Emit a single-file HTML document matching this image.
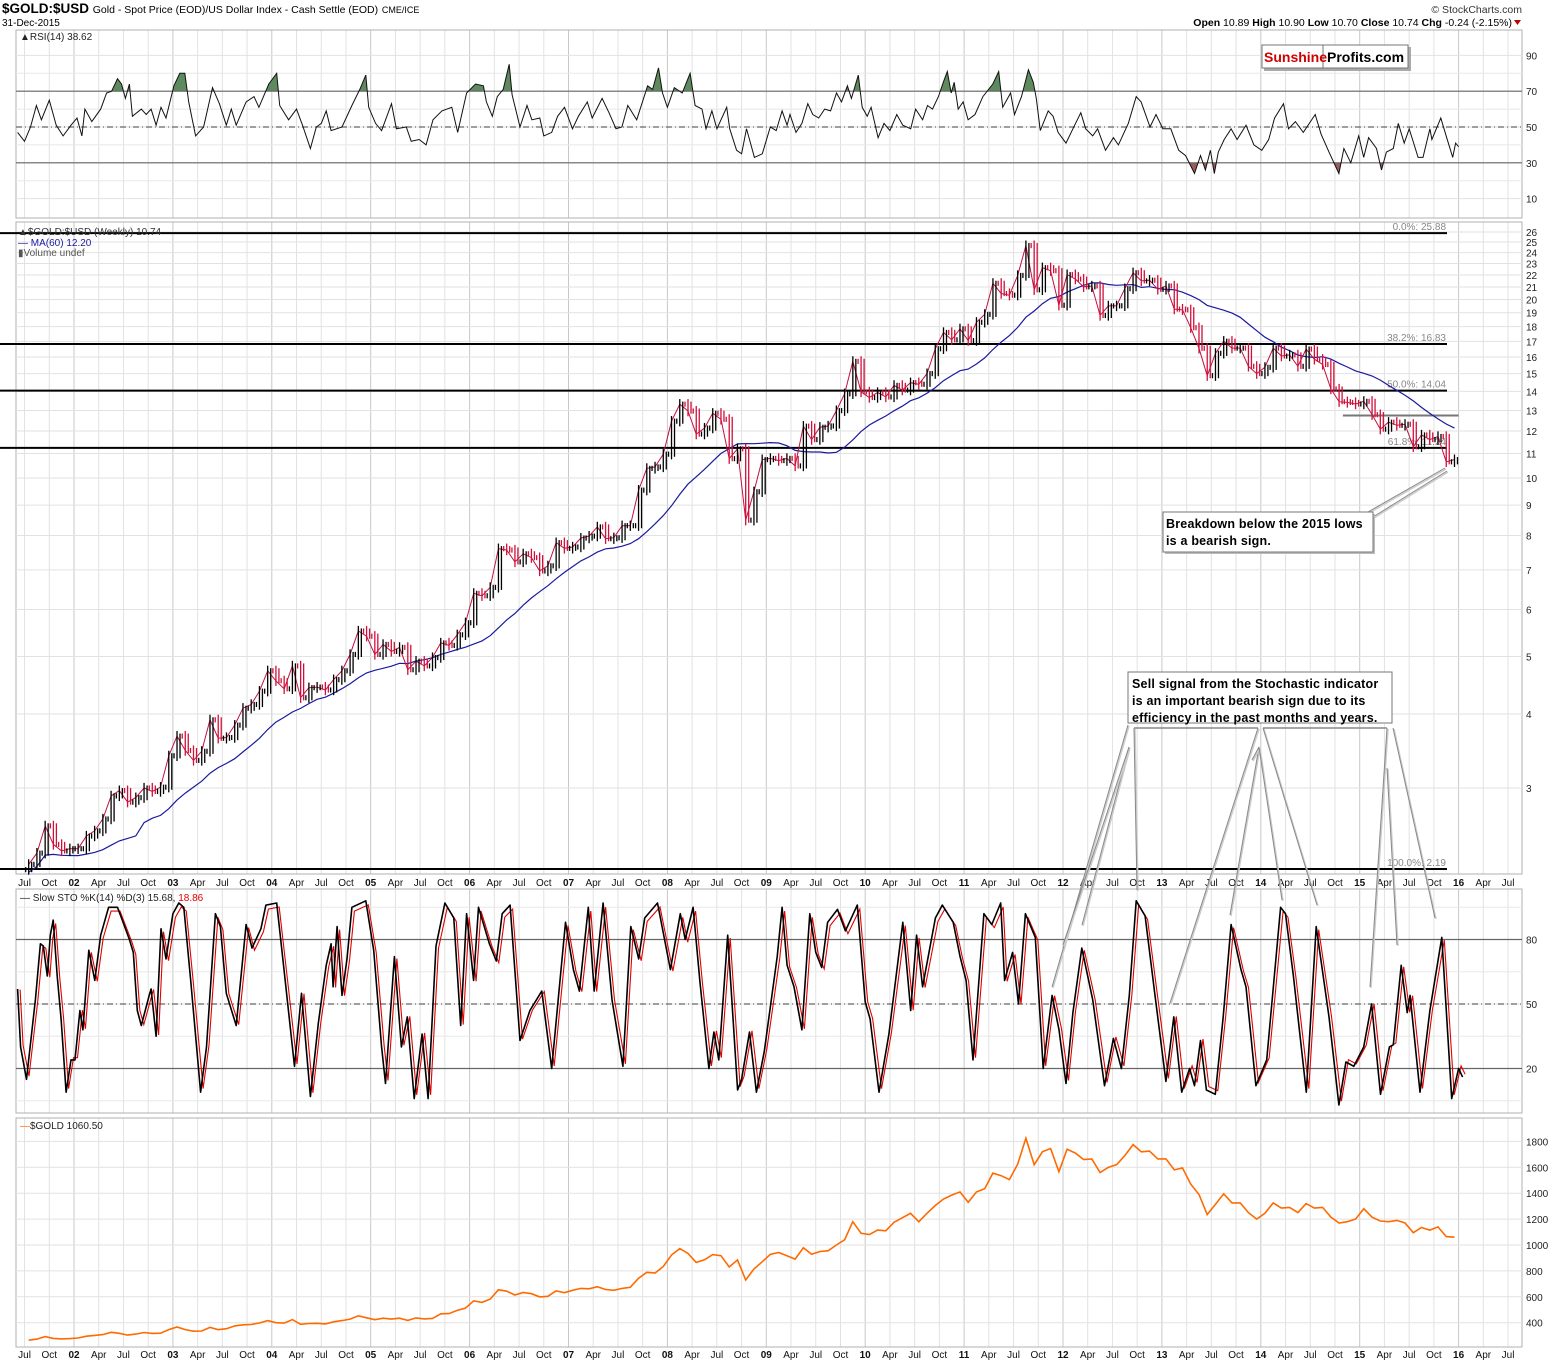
<!DOCTYPE html>
<html><head><meta charset="utf-8">
<style>
html,body{margin:0;padding:0;background:#fff;}
body{width:1565px;height:1362px;overflow:hidden;font-family:"Liberation Sans",Arial,sans-serif;}
svg{display:block;}
text{font-family:"Liberation Sans",Arial,sans-serif;}
</style></head>
<body>
<svg id="chart" width="1565" height="1362" viewBox="0 0 1565 1362" xmlns="http://www.w3.org/2000/svg">
  <text x="2" y="13" font-size="13.5" font-weight="bold">$GOLD:$USD <tspan font-size="10.5" font-weight="normal">Gold - Spot Price (EOD)/US Dollar Index - Cash Settle (EOD)</tspan> <tspan font-size="9" font-weight="normal">CME/ICE</tspan></text>
  <text x="2" y="26" font-size="10">31-Dec-2015</text>
  <text x="1522" y="13" font-size="10.5" fill="#333" text-anchor="end">© StockCharts.com</text>
  <text x="1512" y="26" font-size="10.5" text-anchor="end"><tspan font-weight="bold">Open</tspan> 10.89  <tspan font-weight="bold">High</tspan> 10.90  <tspan font-weight="bold">Low</tspan> 10.70  <tspan font-weight="bold">Close</tspan> 10.74  <tspan font-weight="bold">Chg</tspan> -0.24 (-2.15%)</text>
  <polygon points="1514,20 1521,20 1517.5,25" fill="#c00000"/>
  <g id="grid"></g>
  <g id="rsi"></g>
  <g id="main"></g>
  <g id="sto"></g>
  <g id="gold"></g>
  <g id="axes"></g>
  <g id="notes"></g>
</svg>
<script>
// ---------- DATA ----------
const priceStart = 2001.5; // July 2001, monthly closes
const ratioCloses = [2.23,2.33,2.59,2.41,2.35,2.37,
2.37,2.49,2.54,2.66,2.91,2.97,2.84,2.89,3.0,2.96,3.01,3.40,
3.67,3.47,3.34,3.46,3.91,3.64,3.65,3.83,4.09,4.15,4.37,4.73,
4.55,4.41,4.82,4.26,4.43,4.44,4.39,4.57,4.73,5.04,5.52,5.41,
5.04,5.24,5.10,5.18,4.75,4.91,4.82,4.98,5.27,5.22,5.44,5.70,
6.39,6.33,6.54,7.60,7.56,7.22,7.45,7.34,6.97,7.11,7.78,7.61,
7.65,7.92,7.98,8.27,7.90,7.93,8.31,8.31,9.54,10.38,10.44,10.97,
12.47,13.32,12.97,11.86,12.14,12.86,12.56,10.78,11.20,8.49,9.48,10.74,
10.79,10.70,10.79,10.48,12.23,11.61,12.18,12.24,12.99,13.87,15.73,13.97,
13.67,13.94,13.70,14.33,14.07,14.48,14.39,15.0,16.52,17.60,17.10,17.85,
17.05,18.31,18.88,21.30,20.47,20.34,21.96,24.66,20.77,22.63,22.37,19.56,
22.03,21.65,21.01,21.08,18.80,19.51,19.52,20.86,22.19,21.50,21.56,20.81,
21.08,19.27,19.22,17.93,16.55,14.88,16.23,17.01,16.56,16.56,15.43,15.0,
15.37,16.56,16.06,16.13,15.43,16.5,15.86,15.54,14.13,13.45,13.41,13.33,
13.47,12.79,12.09,12.42,12.27,12.32,11.29,11.82,11.61,11.75,10.65,10.74];
const goldCloses = [265,273,293,279,275,277,
282,296,302,308,326,318,304,312,324,317,319,347,
367,347,334,336,364,346,354,375,384,386,398,416,
400,397,424,388,394,395,391,407,416,428,453,438,
423,435,428,435,418,437,429,433,469,470,495,513,
569,557,582,654,643,614,633,624,599,604,646,632,
650,665,662,678,656,650,665,673,744,789,783,834,
923,972,934,866,886,926,917,830,885,730,815,870,
928,942,917,891,978,929,950,955,1000,1040,1180,1090,
1080,1115,1110,1175,1210,1245,1180,1245,1305,1355,1385,1410,
1330,1410,1435,1555,1535,1505,1625,1825,1620,1720,1745,1565,
1740,1710,1660,1665,1560,1600,1620,1690,1775,1720,1725,1665,
1665,1580,1595,1470,1390,1235,1315,1395,1325,1325,1250,1200,
1245,1325,1285,1290,1250,1320,1285,1290,1215,1170,1180,1200,
1280,1215,1185,1180,1190,1170,1095,1135,1115,1140,1065,1060];
const maPeriodMonths = 14;
const fibLevels = [25.88, 16.83, 14.04, 11.24, 2.19];
const fibLabels = ["0.0%: 25.88","38.2%: 16.83","50.0%: 14.04","61.8%: 11.24","100.0%: 2.19"];
const resistanceLevel = 12.75;
const mainTicks = [3,4,5,6,7,8,9,10,11,12,13,14,15,16,17,18,19,20,21,22,23,24,25,26];
const rsiTicks = [10,30,50,70,90];
const stoTicks = [20,50,80];
const goldTicks = [400,600,800,1000,1200,1400,1600,1800];

const rsiDates = [2001.43,2001.50,2001.56,2001.62,2001.67,2001.75,2001.82,2001.89,2001.97,2002.03,2002.08,2002.11,2002.18,2002.27,2002.33,2002.38,2002.44,2002.48,2002.52,2002.56,2002.59,2002.68,2002.73,2002.78,2002.83,2002.88,2002.93,2003.01,2003.07,2003.12,2003.16,2003.23,2003.31,2003.40,2003.47,2003.54,2003.59,2003.64,2003.74,2003.82,2003.87,2003.97,2004.05,2004.08,2004.17,2004.25,2004.31,2004.39,2004.45,2004.50,2004.55,2004.60,2004.71,2004.81,2004.89,2004.95,2004.98,2005.05,2005.11,2005.21,2005.26,2005.36,2005.41,2005.49,2005.56,2005.63,2005.72,2005.82,2005.88,2005.97,2006.06,2006.14,2006.17,2006.23,2006.28,2006.34,2006.40,2006.43,2006.51,2006.58,2006.63,2006.71,2006.75,2006.83,2006.89,2006.96,2007.04,2007.10,2007.19,2007.24,2007.34,2007.41,2007.48,2007.54,2007.60,2007.69,2007.80,2007.85,2007.91,2007.95,2008.00,2008.07,2008.15,2008.23,2008.28,2008.35,2008.39,2008.45,2008.50,2008.60,2008.63,2008.70,2008.75,2008.80,2008.84,2008.88,2008.96,2009.04,2009.10,2009.16,
2009.21,2009.24,2009.30,2009.36,2009.42,2009.47,2009.53,2009.59,2009.65,2009.71,2009.76,2009.82,2009.86,2009.93,2009.97,2010.02,2010.06,2010.13,2010.19,2010.25,2010.32,2010.38,2010.46,2010.51,2010.58,2010.63,2010.68,2010.74,2010.79,2010.83,2010.87,2010.90,2010.94,2010.99,2011.04,2011.11,2011.19,2011.29,2011.35,2011.39,2011.47,2011.51,2011.58,2011.65,2011.70,2011.73,2011.77,2011.85,2011.90,2011.95,2012.03,2012.10,2012.18,2012.23,2012.30,2012.35,2012.43,2012.51,2012.56,2012.66,2012.74,2012.79,2012.88,2012.94,2013.01,2013.09,2013.17,2013.24,2013.33,2013.39,2013.44,2013.49,2013.53,2013.57,2013.63,2013.70,2013.76,2013.85,2013.93,2014.01,2014.08,2014.14,2014.23,2014.28,2014.35,2014.43,2014.55,2014.61,2014.69,2014.79,2014.84,2014.91,2014.99,2015.04,2015.09,2015.17,2015.22,2015.27,2015.34,2015.39,2015.45,2015.50,2015.59,2015.64,2015.71,2015.73,2015.82,2015.88,2015.94,2015.97,2016.00];
const rsiValues = [47,42,50,62,54,65,51,45,51,55,45,60,53,60,69,70,77,74,66,74,56,60,57,60,51,61,55,73,80,80,64,45,50,72,63,51,60,51,64,67,61,74,80,62,54,60,51,38,50,52,59,48,50,62,71,79,61,52,48,63,49,50,42,43,40,54,59,61,47,69,74,73,64,56,67,71,85,68,50,62,54,55,45,47,56,61,49,56,64,55,66,58,49,50,62,54,73,71,83,69,61,72,69,80,62,60,49,59,49,61,49,37,35,49,41,33,35,50,48,59,
51,57,47,52,63,57,55,60,59,69,64,73,66,79,61,56,61,44,52,48,57,51,49,60,54,62,60,67,75,81,69,75,60,64,54,57,67,74,81,61,69,57,67,82,75,66,48,59,56,47,41,49,58,49,45,49,37,44,40,52,67,64,50,57,49,49,37,34,24,34,26,37,24,36,43,49,43,51,40,37,43,55,63,49,53,47,57,46,36,24,38,30,45,33,44,38,26,36,38,52,41,49,33,33,49,43,55,44,33,41,39];

const stoDates = [2001.43,2001.46,2001.52,2001.61,2001.66,2001.69,2001.73,2001.76,2001.79,2001.83,2001.87,2001.92,2001.97,2002.01,2002.06,2002.09,2002.15,2002.21,2002.27,2002.35,2002.44,2002.48,2002.56,2002.60,2002.64,2002.68,2002.76,2002.78,2002.83,2002.88,2002.93,2003.00,2003.06,2003.11,2003.18,2003.24,2003.28,2003.34,2003.43,2003.48,2003.54,2003.64,2003.74,2003.80,2003.89,2003.94,2004.05,2004.13,2004.23,2004.30,2004.39,2004.47,2004.55,2004.60,2004.62,2004.66,2004.71,2004.76,2004.81,2004.95,2005.03,2005.11,2005.15,2005.24,2005.31,2005.37,2005.44,2005.52,2005.58,2005.66,2005.75,2005.84,2005.91,2005.97,2006.04,2006.09,2006.20,2006.27,2006.33,2006.41,2006.51,2006.61,2006.73,2006.83,2006.97,2007.05,2007.11,2007.20,2007.26,2007.35,2007.44,2007.55,2007.63,2007.71,2007.77,2007.90,2008.03,2008.13,2008.18,2008.26,2008.33,2008.42,2008.47,2008.52,2008.61,2008.71,2008.75,2008.83,2008.90,2008.98,2009.11,
2009.16,2009.21,2009.28,2009.36,2009.44,2009.50,2009.56,2009.62,2009.72,2009.80,2009.92,2010.00,2010.05,2010.14,2010.24,2010.38,2010.46,2010.52,2010.58,2010.71,2010.78,2010.89,2010.96,2011.02,2011.09,2011.20,2011.28,2011.37,2011.41,2011.49,2011.55,2011.62,2011.72,2011.80,2011.89,2011.96,2012.03,2012.10,2012.19,2012.30,2012.42,2012.51,2012.59,2012.67,2012.74,2012.83,2012.93,2013.04,2013.12,2013.20,2013.28,2013.33,2013.39,2013.45,2013.54,2013.62,2013.70,2013.80,2013.85,2013.95,2014.06,2014.20,2014.25,2014.33,2014.46,2014.56,2014.69,2014.79,2014.86,2014.94,2015.04,2015.12,2015.21,2015.30,2015.34,2015.42,2015.48,2015.51,2015.61,2015.71,2015.83,2015.93,2016.00,2016.04];
const stoKValues = [57,30,15,52,78,77,63,82,89,63,43,9,24,24,47,38,75,61,82,95,95,90,80,74,47,40,54,57,35,85,71,92,97,95,61,30,9,30,92,86,55,40,87,76,85,96,97,63,21,55,7,41,68,78,58,86,54,71,95,98,75,30,13,72,30,44,6,36,6,77,97,90,40,92,61,95,78,70,92,96,33,47,56,20,88,66,56,95,56,97,52,21,86,71,90,97,66,92,80,95,60,20,37,24,82,10,15,37,9,28,72,
95,68,58,38,92,74,67,88,94,84,96,51,43,9,36,88,47,82,58,90,96,88,72,61,24,92,87,97,61,74,50,92,81,20,54,38,13,46,76,52,12,34,20,54,98,91,54,14,44,9,20,12,33,10,8,44,87,66,58,12,24,95,92,63,9,86,44,3,23,21,30,50,8,30,31,68,46,54,9,47,81,6,20,16];

// ---------- GEOMETRY ----------
const X0 = 16, X1 = 1522;
const xOf = y => 74 + (y - 2002) * 98.9;
const monthX = i => xOf(priceStart + (i + 0.5) / 12);
const RSI = {top:30, bot:218}, MAIN = {top:222, bot:874}, STO = {top:889, bot:1113}, GOLD = {top:1118, bot:1347};
const yRsi = v => 127 - (v - 50) * 1.79;
const yMain = v => 478 - Math.log(v / 10) * 257.5;
const ySto = v => 1004 - (v - 50) * 2.15;
const yGold = v => 1245 - (v - 1000) * 0.1295;

const NS = "http://www.w3.org/2000/svg";
function mk(tag, attrs, parent) {
  const e = document.createElementNS(NS, tag);
  for (const k in attrs) e.setAttribute(k, attrs[k]);
  parent.appendChild(e);
  return e;
}
const gGrid = document.getElementById('grid');
const gAxes = document.getElementById('axes');

const panels = [RSI, MAIN, STO, GOLD];
const panelNames = ['rsi-frame','price-frame','stochastic-frame','gold-frame'];
panels.forEach((p, idx) => {
  for (let y = 2001.5; y <= 2016.75; y += 0.25) {
    const x = xOf(y);
    if (x < X0 || x > X1) continue;
    const isYear = Math.abs(y - Math.round(y)) < 0.01;
    const l = mk('line', {x1:x, x2:x, y1:p.top, y2:p.bot, stroke: isYear ? '#c8c8c8' : '#e2e2e2', 'stroke-width':1}, gGrid);
    
    
  }
  const r = mk('rect', {x:X0, y:p.top, width:X1 - X0, height:p.bot - p.top, fill:'none', stroke:'#b0b0b0', 'stroke-width':1}, gGrid);
  
  
});
function hgrid(ticks, yf, p, name) {
  ticks.forEach(t => {
    const y = yf(t);
    const l = mk('line', {x1:X0, x2:X1, y1:y, y2:y, stroke:'#e2e2e2', 'stroke-width':1}, gGrid);
    
    
    const tx = mk('text', {x:X1 + 4, y:y + 4, 'font-size':10, fill:'#222'}, gAxes);
    tx.textContent = t;
    
    
  });
}
hgrid(rsiTicks, yRsi, RSI, 'rsi');
[20,40,60,80].forEach(t => { const l = mk('line',{x1:X0,x2:X1,y1:yRsi(t),y2:yRsi(t),stroke:'#e8e8e8'},gGrid);   });
hgrid(mainTicks, yMain, MAIN, 'price');
hgrid(stoTicks, ySto, STO, 'stochastic');
[35,65,95,5].forEach(t => { const l = mk('line',{x1:X0,x2:X1,y1:ySto(t),y2:ySto(t),stroke:'#e8e8e8'},gGrid);   });
hgrid(goldTicks, yGold, GOLD, 'gold');

function xLabels(yPos, name) {
  const mNames = ['', 'Apr', 'Jul', 'Oct'];
  for (let y = 2001.5; y <= 2016.5; y += 0.25) {
    const q = Math.round((y - Math.floor(y)) * 4);
    const yr = Math.floor(y + 1e-6);
    const label = q === 0 ? String(yr).slice(2) : mNames[q];
    const t = mk('text', {x:xOf(y), y:yPos, 'font-size':10, 'text-anchor':'middle', 'font-weight': q === 0 ? 'bold' : 'normal', fill:'#111'}, gAxes);
    t.textContent = label;
    
    
  }
}
xLabels(886, 'x-axis-label-upper');
xLabels(1358, 'x-axis-label-lower');

// ---------- RSI ----------
const gR = document.getElementById('rsi');
const rsiPts = rsiDates.map((d, i) => [xOf(d), yRsi(rsiValues[i])]);
const defs = mk('defs', {}, gR);
const c1 = mk('clipPath', {id:'above70'}, defs); mk('rect', {x:0, y:0, width:1565, height:yRsi(70)}, c1);
const c2 = mk('clipPath', {id:'below30'}, defs); mk('rect', {x:0, y:yRsi(30), width:1565, height:200}, c2);
const ptsStr = rsiPts.map(p => p[0].toFixed(1) + ',' + p[1].toFixed(1)).join(' ');
const first = rsiPts[0], last = rsiPts[rsiPts.length - 1];
const fa = mk('polygon', {points: ptsStr + ` ${last[0]},${yRsi(70)} ${first[0]},${yRsi(70)}`, fill:'#5f8a5f', 'clip-path':'url(#above70)'}, gR);


const fb = mk('polygon', {points: ptsStr + ` ${last[0]},${yRsi(30)} ${first[0]},${yRsi(30)}`, fill:'#9a5b5b', 'clip-path':'url(#below30)'}, gR);


[[70,'none'],[30,'none'],[50,'6,3,1,3']].forEach(([v, dash]) => {
  const l = mk('line', {x1:X0, x2:X1, y1:yRsi(v), y2:yRsi(v), stroke:'#666', 'stroke-width':1.2, 'stroke-dasharray':dash}, gR);
  
  
});
const rl = mk('polyline', {points: ptsStr, fill:'none', stroke:'#111', 'stroke-width':1}, gR);


const rt = mk('text', {x:20, y:40, 'font-size':10, fill:'#222'}, gR);
rt.textContent = '▲RSI(14) 38.62';



// ---------- MAIN PRICE ----------
const gM = document.getElementById('main');
fibLevels.forEach((v, i) => {
  const l = mk('line', {x1:0, x2:1447, y1:yMain(v), y2:yMain(v), stroke:'#000', 'stroke-width':2}, gM);
  
  
  const t = mk('text', {x:1446, y:yMain(v) - 3, 'font-size':10, fill:'#888', 'text-anchor':'end'}, gM);
  t.textContent = fibLabels[i];
  
  
});
const rsl = mk('line', {x1:xOf(2014.83), x2:xOf(2016.0), y1:yMain(resistanceLevel), y2:yMain(resistanceLevel), stroke:'#777', 'stroke-width':2}, gM);



const maPts = ratioCloses.map((v, i) => {
  const s = ratioCloses.slice(Math.max(0, i - maPeriodMonths + 1), i + 1);
  const avg = s.reduce((a, b) => a + b, 0) / s.length;
  return [monthX(i), yMain(avg * (i < maPeriodMonths ? 0.97 : 1))];
});
const mal = mk('polyline', {points: maPts.map(p => p[0].toFixed(1) + ',' + p[1].toFixed(1)).join(' '), fill:'none', stroke:'#1a1aa0', 'stroke-width':1.2}, gM);



// thin closes line underneath
const pl = mk('polyline', {points: ratioCloses.map((c, i) => monthX(i).toFixed(1) + ',' + yMain(c).toFixed(1)).join(' '), fill:'none', stroke:'#c01040', 'stroke-width':1}, gM);


ratioCloses.forEach((c, i) => {
  const o = i === 0 ? c * 0.98 : ratioCloses[i - 1];
  const hi = Math.max(o, c) * 1.02, lo = Math.min(o, c) * 0.98;
  const col = c >= o ? '#000' : '#d0103a';
  const x = monthX(i);
  const b = mk('line', {x1:x, x2:x, y1:yMain(hi), y2:yMain(lo), stroke:col, 'stroke-width':1.3}, gM);
  
  
  const b2 = mk('line', {x1:x + 3, x2:x + 3, y1:yMain(Math.max(o, c) * 1.01), y2:yMain(Math.min(o, c) * 0.99), stroke:col, 'stroke-width':1.3}, gM);
  
  
  const b3 = mk('line', {x1:x - 3, x2:x - 3, y1:yMain(o * 1.01), y2:yMain(o * 0.99), stroke:col, 'stroke-width':1.3}, gM);
  
  
});

const lg1 = mk('text', {x:18, y:235, 'font-size':10, fill:'#333'}, gM);
lg1.textContent = '▲$GOLD:$USD (Weekly) 10.74';


const lg2 = mk('text', {x:18, y:246, 'font-size':10, fill:'#1a1aa0'}, gM);
lg2.textContent = '— MA(60) 12.20';


const lg3 = mk('text', {x:18, y:256, 'font-size':10, fill:'#555'}, gM);
lg3.textContent = '▮Volume undef';



// ---------- STOCHASTIC ----------
const gS = document.getElementById('sto');
[[80,'none'],[20,'none'],[50,'6,3,1,3']].forEach(([v, dash]) => {
  const l = mk('line', {x1:X0, x2:X1, y1:ySto(v), y2:ySto(v), stroke:'#666', 'stroke-width':1.2, 'stroke-dasharray':dash}, gS);
  
  
});
const dl = mk('polyline', {points: stoDates.map((d, i) => (xOf(d) + 2.5).toFixed(1) + ',' + ySto(stoKValues[i] * 0.96 + 2).toFixed(1)).join(' '), fill:'none', stroke:'#e00000', 'stroke-width':1.1}, gS);


const kl = mk('polyline', {points: stoDates.map((d, i) => xOf(d).toFixed(1) + ',' + ySto(stoKValues[i]).toFixed(1)).join(' '), fill:'none', stroke:'#000', 'stroke-width':1.6, 'stroke-linejoin':'round'}, gS);


const st = mk('text', {x:20, y:901, 'font-size':10, fill:'#222'}, gS);
st.innerHTML = '— Slow STO %K(14) %D(3) 15.68, <tspan fill="#e00000">18.86</tspan>';



// ---------- GOLD ----------
const gG = document.getElementById('gold');
const gl = mk('polyline', {points: goldCloses.map((v, i) => monthX(i).toFixed(1) + ',' + yGold(v).toFixed(1)).join(' '), fill:'none', stroke:'#ff6a00', 'stroke-width':1.6}, gG);


const gt = mk('text', {x:20, y:1129, 'font-size':10, fill:'#222'}, gG);
gt.innerHTML = '<tspan fill="#ff6a00">—</tspan>$GOLD 1060.50';



// ---------- ANNOTATIONS ----------
const gN = document.getElementById('notes');
const calloutLines = [
  [1368,512,1445,468],[1373,517,1447,471],
  [1128,725,1052,987],[1129,747,1082,925],[1129,747,1063,945],
  [1134,728,1137,890],
  [1258,728,1170,1003],[1259,747,1230,915],[1259,747,1252,760],
  [1263,728,1317,905],[1259,747,1282,900],
  [1387,728,1370,987],[1393,728,1435,918],[1387,768,1397,945]
];
calloutLines.forEach(c => {
  const a = mk('line', {x1:c[0]+1, y1:c[1]+1, x2:c[2]+1, y2:c[3]+1, stroke:'#ccc', 'stroke-width':1.5}, gN);
  
  
  const b = mk('line', {x1:c[0], y1:c[1], x2:c[2], y2:c[3], stroke:'#888', 'stroke-width':1}, gN);
  
  
});
const br1 = mk('polyline', {points:'1134,728 1258,728', fill:'none', stroke:'#888', 'stroke-width':1.5}, gN);


const br2 = mk('polyline', {points:'1263,728 1387,728', fill:'none', stroke:'#888', 'stroke-width':1.5}, gN);


</script>
<svg style="position:absolute;left:0;top:0" width="1565" height="1362">
  <rect x="1264" y="47" width="147" height="24" fill="#aaa"/>
  <rect x="1262" y="45" width="146" height="23" fill="#fff" stroke="#777"/>
  <line x1="1323" y1="45" x2="1323" y2="68" stroke="#777"/>
  <text x="1264" y="62" font-size="14" font-weight="bold" fill="#d00000" font-family="Liberation Sans, sans-serif">Sunshine</text>
  <text x="1327" y="62" font-size="14" font-weight="bold" fill="#000" font-family="Liberation Sans, sans-serif">Profits.com</text>
  <rect x="1165" y="514" width="210" height="40" fill="#bbb"/>
  <rect x="1163" y="512" width="210" height="40" fill="#fff" stroke="#777"/>
  <text x="1166" y="528" font-size="12.5" font-weight="bold" font-family="Liberation Sans, sans-serif" letter-spacing="0.2">Breakdown below the 2015 lows</text>
  <text x="1166" y="545" font-size="12.5" font-weight="bold" font-family="Liberation Sans, sans-serif" letter-spacing="0.2">is a bearish sign.</text>
  <rect x="1128" y="672" width="264" height="51" fill="#fff" stroke="#777"/>
  <text x="1132" y="688" font-size="12.5" font-weight="bold" font-family="Liberation Sans, sans-serif" letter-spacing="0.2">Sell signal from the Stochastic indicator</text>
  <text x="1132" y="705" font-size="12.5" font-weight="bold" font-family="Liberation Sans, sans-serif" letter-spacing="0.2">is an important bearish sign due to its</text>
  <text x="1132" y="722" font-size="12.5" font-weight="bold" font-family="Liberation Sans, sans-serif" letter-spacing="0.2">efficiency in the past months and years.</text>
</svg>
</body></html>
